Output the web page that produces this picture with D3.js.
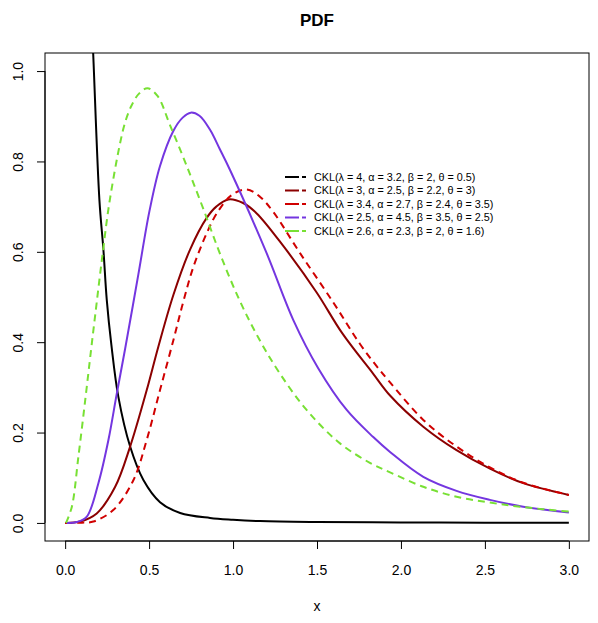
<!DOCTYPE html>
<html>
<head>
<meta charset="utf-8">
<script src="https://cdn.jsdelivr.net/npm/d3@7/dist/d3.min.js"></script>
<style>
  body { margin: 0; background: #fff; }
  svg { display: block; font-family: "Liberation Sans", Arial, sans-serif; }
</style>
</head>
<body>
<svg id="chart" width="598" height="623"></svg>
<script>
// values, [x, density]
var ckl1 = [[0.15,1.19],[0.168,1.03],[0.204,0.715],[0.228,0.604],[0.248,0.493],[0.275,0.395],[0.317,0.279],[0.387,0.169],[0.466,0.095],[0.565,0.046],[0.685,0.022],[0.863,0.011],[1.0,0.007],[1.161,0.004],[1.5,0.002],[2.0,0.001],[2.5,0.0005],[3.0,0.0003]];
var ckl2 = [[0.0,0],[0.089,0.003],[0.188,0.021],[0.298,0.08],[0.387,0.169],[0.486,0.294],[0.555,0.39],[0.645,0.505],[0.744,0.605],[0.843,0.675],[0.9,0.70],[0.972,0.716],[1.06,0.708],[1.141,0.685],[1.299,0.613],[1.498,0.51],[1.65,0.42],[1.835,0.33],[1.935,0.282],[2.133,0.213],[2.331,0.161],[2.53,0.12],[2.728,0.088],[3.0,0.062]];
var ckl3 = [[0.0,0],[0.1,0.0005],[0.168,0.003],[0.288,0.029],[0.407,0.095],[0.486,0.184],[0.565,0.294],[0.645,0.405],[0.704,0.49],[0.764,0.567],[0.843,0.641],[0.903,0.685],[0.99,0.725],[1.081,0.738],[1.16,0.722],[1.24,0.688],[1.399,0.597],[1.597,0.488],[1.756,0.396],[1.855,0.347],[1.935,0.311],[2.133,0.228],[2.331,0.169],[2.53,0.123],[2.728,0.089],[3.0,0.062]];
var ckl4 = [[0.01,0],[0.07,0.002],[0.129,0.014],[0.198,0.088],[0.258,0.184],[0.307,0.285],[0.357,0.385],[0.436,0.55],[0.502,0.69],[0.565,0.79],[0.645,0.868],[0.7,0.897],[0.748,0.908],[0.80,0.901],[0.863,0.870],[0.92,0.828],[0.982,0.781],[1.2,0.597],[1.359,0.449],[1.508,0.342],[1.677,0.25],[1.835,0.19],[1.935,0.157],[2.133,0.102],[2.331,0.071],[2.53,0.051],[2.728,0.036],[3.0,0.023]];
var ckl5 = [[0.005,0],[0.04,0.036],[0.079,0.147],[0.119,0.27],[0.155,0.385],[0.179,0.46],[0.218,0.58],[0.264,0.71],[0.327,0.84],[0.36,0.89],[0.397,0.925],[0.44,0.95],[0.49,0.962],[0.55,0.945],[0.625,0.88],[0.724,0.79],[0.823,0.695],[0.923,0.595],[1.042,0.49],[1.161,0.403],[1.28,0.33],[1.438,0.25],[1.637,0.176],[1.815,0.133],[1.935,0.112],[2.133,0.08],[2.331,0.058],[2.53,0.045],[2.728,0.035],[3.0,0.025]];

var labels = [
  "CKL(\u03bb = 4, \u03b1 = 3.2, \u03b2 = 2, \u03b8 = 0.5)",
  "CKL(\u03bb = 3, \u03b1 = 2.5, \u03b2 = 2.2, \u03b8 = 3)",
  "CKL(\u03bb = 3.4, \u03b1 = 2.7, \u03b2 = 2.4, \u03b8 = 3.5)",
  "CKL(\u03bb = 2.5, \u03b1 = 4.5, \u03b2 = 3.5, \u03b8 = 2.5)",
  "CKL(\u03bb = 2.6, \u03b1 = 2.3, \u03b2 = 2, \u03b8 = 1.6)"
];
var xTicks = [0, 0.5, 1, 1.5, 2, 2.5, 3];
var yTicks = [0, 0.2, 0.4, 0.6, 0.8, 1.0];

var series = [
  {data: ckl1, color: "#000000", dash: null},
  {data: ckl2, color: "#8b0000", dash: null},
  {data: ckl3, color: "#d00000", dash: "7,5"},
  {data: ckl4, color: "#7436e0", dash: null},
  {data: ckl5, color: "#78e034", dash: "7,5"}
];

var svg = d3.select("#chart");
var box = {left: 45, right: 589, top: 53, bottom: 541};

// R style: 4% padding round the data range
var x = d3.scaleLinear().domain([-0.12, 3.12]).range([box.left, box.right]);
var y = d3.scaleLinear().domain([-0.04, 1.04]).range([box.bottom, box.top]);

svg.append("clipPath").attr("id", "plotclip")
  .append("rect")
  .attr("x", box.left).attr("y", box.top)
  .attr("width", box.right - box.left).attr("height", box.bottom - box.top);

var line = d3.line()
  .x(function (d) { return x(d[0]); })
  .y(function (d) { return y(d[1]); })
  .curve(d3.curveCatmullRom.alpha(0.5));

var curves = svg.append("g").attr("clip-path", "url(#plotclip)");
series.forEach(function (s) {
  curves.append("path")
    .attr("d", line(s.data))
    .attr("fill", "none")
    .attr("stroke", s.color)
    .attr("stroke-width", 2)
    .attr("stroke-dasharray", s.dash);
});

// frame
svg.append("rect")
  .attr("x", box.left).attr("y", box.top)
  .attr("width", box.right - box.left).attr("height", box.bottom - box.top)
  .attr("fill", "none").attr("stroke", "#000").attr("stroke-width", 1);

var fmt = d3.format(".1f");

var gx = svg.append("g")
  .attr("transform", "translate(0," + box.bottom + ")")
  .call(d3.axisBottom(x).tickValues(xTicks).tickFormat(fmt).tickSize(8).tickPadding(26).tickSizeOuter(0));
gx.select(".domain").remove();
gx.append("line").attr("x1", x(0)).attr("x2", x(3)).attr("stroke", "#000");
gx.selectAll("text").attr("font-size", 14).attr("fill", "#000").attr("dy", 0);
gx.selectAll(".tick line").attr("stroke", "#000");

var gy = svg.append("g")
  .attr("transform", "translate(" + box.left + ",0)")
  .call(d3.axisLeft(y).tickValues(yTicks).tickFormat(fmt).tickSize(8).tickSizeOuter(0));
gy.select(".domain").remove();
gy.append("line").attr("y1", y(0)).attr("y2", y(1)).attr("stroke", "#000");
gy.selectAll(".tick line").attr("stroke", "#000");
gy.selectAll("text")
  .attr("font-size", 14).attr("fill", "#000")
  .attr("x", null).attr("dy", null)
  .attr("text-anchor", "middle")
  .attr("transform", "translate(-22,0) rotate(-90)");

svg.append("text")
  .attr("x", (box.left + box.right) / 2).attr("y", 26)
  .attr("text-anchor", "middle").attr("font-size", 17).attr("font-weight", "bold")
  .text("PDF");

svg.append("text")
  .attr("x", (box.left + box.right) / 2).attr("y", 611)
  .attr("text-anchor", "middle").attr("font-size", 14)
  .text("x");

// legend, no box
var legend = svg.append("g").attr("transform", "translate(285,177)");
var rows = legend.selectAll("g").data(series).enter().append("g")
  .attr("transform", function (d, i) { return "translate(0," + (i * 13.5) + ")"; });
rows.append("line")
  .attr("x1", 0).attr("x2", 21).attr("y1", 0).attr("y2", 0)
  .attr("stroke", function (d) { return d.color; })
  .attr("stroke-width", 2)
  .attr("stroke-dasharray", "14,3,4,10");
rows.append("text")
  .attr("x", 29).attr("y", 0).attr("dy", "0.35em")
  .attr("font-size", 10.8)
  .text(function (d, i) { return labels[i]; });
</script>
</body>
</html>
